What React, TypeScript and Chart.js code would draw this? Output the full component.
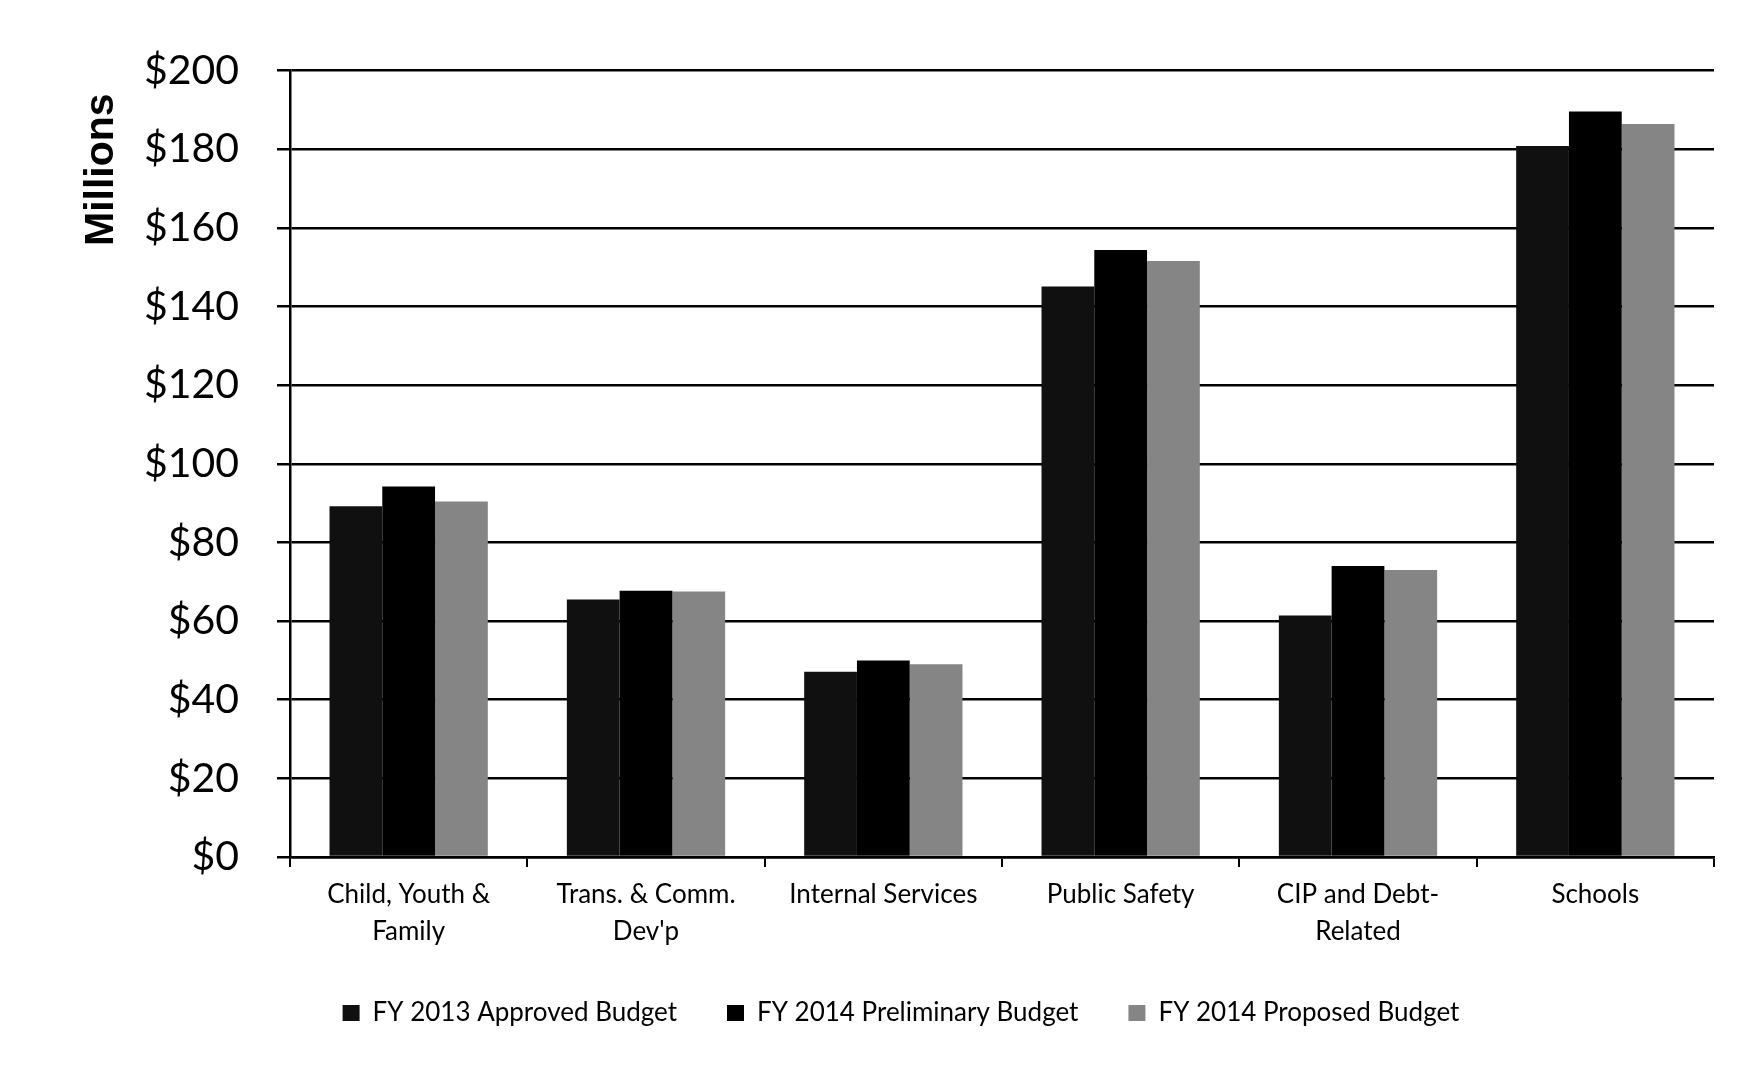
import React, { useEffect, useRef } from "react";
import { Chart, registerables } from "chart.js";

Chart.register(...registerables);

const categories: (string | string[])[] = [
  ["Child, Youth &", "Family"],
  ["Trans. & Comm.", "Dev'p"],
  "Internal Services",
  "Public Safety",
  ["CIP and Debt-", "Related"],
  "Schools",
];

const seriesNames = [
  "FY 2013 Approved Budget",
  "FY 2014 Preliminary Budget",
  "FY 2014 Proposed Budget",
];

const fy2013Approved = [89.2, 65.5, 47.1, 145.1, 61.4, 180.8];
const fy2014Preliminary = [94.2, 67.7, 50.0, 154.4, 74.0, 189.6];
const fy2014Proposed = [90.4, 67.5, 49.0, 151.6, 73.0, 186.4];

const yMin = 0;
const yMax = 200;
const yStep = 20;

const seriesColors = ["#101010", "#000000", "#858585"];

export default function App() {
  const canvasRef = useRef<HTMLCanvasElement | null>(null);

  useEffect(() => {
    if (!canvasRef.current) return;
    const values = [fy2013Approved, fy2014Preliminary, fy2014Proposed];
    const chart = new Chart(canvasRef.current, {
      type: "bar",
      data: {
        labels: categories,
        datasets: seriesNames.map((name, i) => ({
          label: name,
          data: values[i],
          backgroundColor: seriesColors[i],
          borderWidth: 0,
          barPercentage: 1,
          categoryPercentage: 0.667,
        })),
      },
      options: {
        responsive: false,
        animation: false,
        layout: { padding: { left: 80, right: 38, top: 55, bottom: 26 } },
        plugins: {
          tooltip: { enabled: false },
          legend: {
            position: "bottom",
            labels: {
              boxWidth: 17,
              boxHeight: 16,
              padding: 50,
              color: "#000",
              font: { family: "Lato", size: 26 },
            },
          },
        },
        scales: {
          x: {
            afterFit: (s: any) => {
              s.height = 93;
            },
            grid: {
              drawOnChartArea: false,
              drawTicks: true,
              tickLength: 10,
              color: "#000",
              lineWidth: 2,
            },
            border: { color: "#000", width: 2.5 },
            ticks: {
              color: "#000",
              padding: 9.5,
              maxRotation: 0,
              autoSkip: false,
              font: { family: "Lato", size: 26, lineHeight: 1.42 },
            },
          },
          y: {
            min: yMin,
            max: yMax,
            afterFit: (s: any) => {
              s.width = 202;
            },
            grid: {
              color: "#000",
              lineWidth: 2.5,
              tickLength: 13,
            },
            border: { color: "#000", width: 2.5 },
            ticks: {
              stepSize: yStep,
              color: "#000",
              padding: 38,
              font: { family: "Lato", size: 41 },
              callback: (v: any) => "$" + v,
            },
            title: {
              display: true,
              text: "Millions  ",
              align: "end",
              color: "#000",
              padding: { top: 0, bottom: 0 },
              font: { family: "Liberation Sans", size: 41, weight: "bold", lineHeight: 0.68 },
            },
          },
        },
      },
    });
    return () => chart.destroy();
  }, []);

  return (
    <div style={{ width: 1744, height: 1054 }}>
      <canvas ref={canvasRef} width={1744} height={1054} style={{ display: "block" }} />
    </div>
  );
}
